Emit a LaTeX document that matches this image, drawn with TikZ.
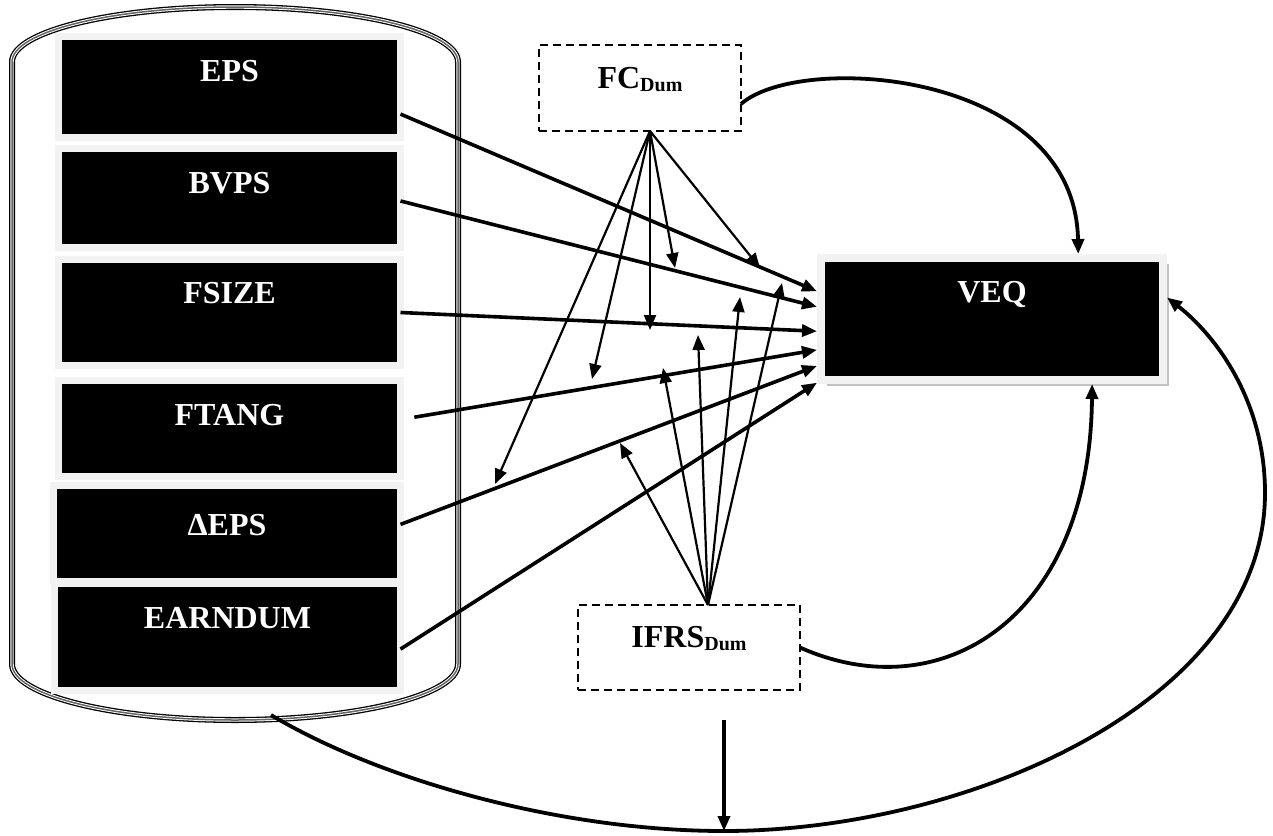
\documentclass[tikz,border=0pt]{standalone}
\usepackage{fontspec}
\setmainfont{Liberation Serif}
\usetikzlibrary{arrows.meta,shadows}
\definecolor{framegray}{HTML}{F2F2F2}
\definecolor{shadowgray}{HTML}{C4C4C4}
\tikzset{
  varbox/.style={fill=black, draw=framegray, line width=7pt, inner sep=0pt, outer sep=0pt,
    text=white, font=\fontsize{32}{36}\selectfont\bfseries, anchor=base},
  dumbox/.style={draw=black, dash pattern=on 8pt off 5pt, line width=2.2pt, inner sep=0pt, outer sep=0pt,
    text=black, font=\fontsize{32}{36}\selectfont\bfseries, anchor=base},
  mainarrow/.style={line width=3.6pt, -{Triangle[length=15pt,width=12pt]}},
  modarrow/.style={line width=2.2pt, -{Triangle[length=15pt,width=12pt]}},
  curvearrow/.style={line width=3.8pt, -{Triangle[length=15pt,width=12pt]}},
  cylline/.style={line width=#1},
}
\newcommand{\dumsub}{\raisebox{-3pt}{\fontsize{20}{22}\selectfont Dum}}
\begin{document}
\begin{tikzpicture}[x=1pt,y=-1pt]
\useasboundingbox (0,0) rectangle (1273,835);
% cylinder
\def\cylpath{(12,664) -- (12,62) .. controls (12,31.6) and (111.8,7) .. (235,7) .. controls (358.2,7) and (458,31.6) .. (458,62) -- (458,664) .. controls (458,694.9) and (358.2,720) .. (235,720) .. controls (111.8,720) and (12,694.9) .. (12,664) -- cycle}
\fill[white] \cylpath;
\draw[cylline=6pt, black] \cylpath;
\draw[cylline=3.4pt, white] \cylpath;
\draw[cylline=1.5pt, black!60] \cylpath;
\coordinate (cylb) at (271,715);

% left boxes
\node[varbox, minimum width=342pt, text height=44.5pt, text depth=56.5pt] (eps) at (229.5,81) {EPS};
\node[varbox, minimum width=342pt, text height=44.5pt, text depth=54.5pt] (bvps) at (229.5,193) {BVPS};
\node[varbox, minimum width=342pt, text height=43.5pt, text depth=62.5pt] (fsize) at (229.5,303) {FSIZE};
\node[varbox, minimum width=342pt, text height=44.5pt, text depth=51.5pt] (ftang) at (229.5,425) {FTANG};
\node[varbox, minimum width=347pt, text height=49.5pt, text depth=46.5pt] (deps) at (227,535) {ΔEPS};
\node[varbox, minimum width=346pt, text height=44.5pt, text depth=62.5pt] (earn) at (227.5,628) {EARNDUM};

% VEQ
\node[varbox, line width=8pt, outer sep=4pt, minimum width=342pt, text height=44pt, text depth=78pt,
  drop shadow={shadow xshift=6pt, shadow yshift=-6pt, fill=shadowgray, opacity=1}] (veq) at (992,302) {VEQ};

% dummy boxes
\node[dumbox, minimum width=202pt, text height=43pt, text depth=43pt] (fc) at (640,88) {FC\dumsub};
\node[dumbox, minimum width=222pt, text height=42pt, text depth=43pt] (ifrs) at (689,647) {IFRS\dumsub};

% main arrows
\draw[mainarrow] (eps.-9.6) -- (veq.171.2);
\draw[mainarrow] (bvps.-1.7) -- (veq.176.4);
\draw[mainarrow] (fsize.0) -- (veq.184.7);
\draw[mainarrow, shorten <=14pt] (ftang.3.2) -- (veq.190.2);
\draw[mainarrow] (deps.3.7) -- (veq.195.9);
\draw[mainarrow] (earn.-4.3) -- (veq.200);

% FC moderating arrows
\coordinate (f1) at (760,268);
\coordinate (f2) at (675,268);
\coordinate (f3) at (650,330);
\coordinate (f4) at (592,379);
\coordinate (f5) at (495,484);
\foreach \t in {f1,f2,f3,f4,f5}
  \draw[modarrow] ([xshift=10pt]fc.south) -- (\t);

% IFRS moderating arrows
\coordinate (i1) at (620,443);
\coordinate (i2) at (663,368);
\coordinate (i3) at (698,335);
\coordinate (i4) at (740,297);
\coordinate (i5) at (782,283);
\foreach \t in {i1,i2,i3,i4,i5}
  \draw[modarrow] ([xshift=19pt]ifrs.north) -- (\t);

% curves
\draw[curvearrow] (fc.-9.6) .. controls (800,52) and (1075,70) .. (veq.37.4);
\draw[curvearrow] (ifrs.east) .. controls (940,710) and (1090,620) .. (veq.-33.7);

\coordinate (lowpt) at (724,831);
\coordinate (rightpt) at (1265,493);
\coordinate (vtop) at (724,720);
\draw[curvearrow] (cylb) .. controls (380,780) and (560,831) .. (lowpt)
  .. controls (970,831) and (1265,700) .. (rightpt)
  .. controls (1265,400) and (1215,335) .. (veq.7.2);
\draw[mainarrow] (vtop) -- (lowpt);
\end{tikzpicture}
\end{document}
